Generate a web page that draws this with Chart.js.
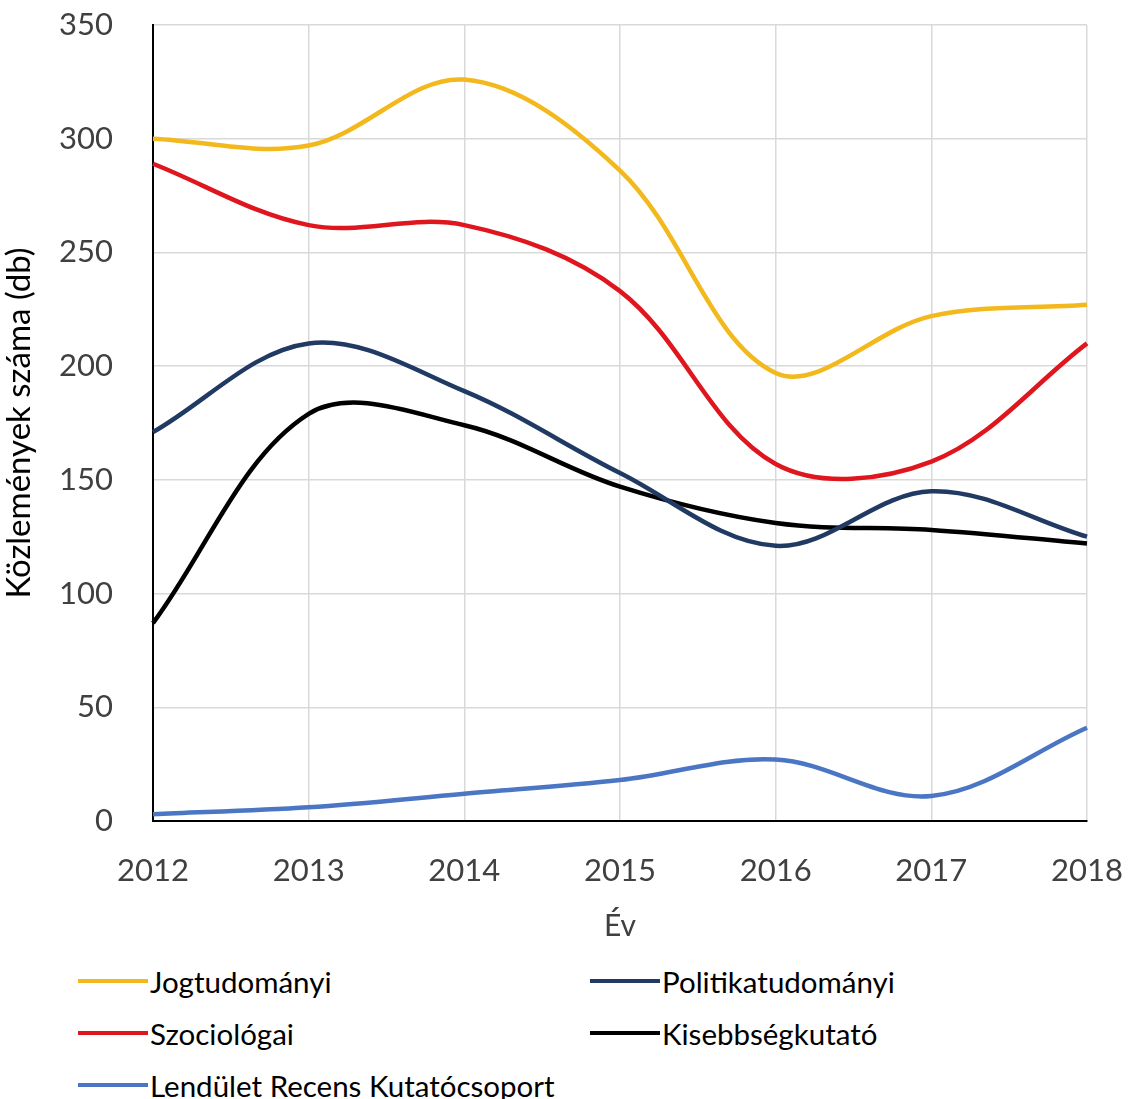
<!DOCTYPE html>
<html>
<head>
<meta charset="utf-8">
<script src="https://cdn.jsdelivr.net/npm/chart.js@4"></script>
<style>
  body { margin: 0; background: #fff; font-family: Lato, "Open Sans", sans-serif; }
  #wrap { position: relative; width: 1132px; height: 955px; }
  #legend {
    display: grid;
    grid-template-columns: 512px 1fr;
    padding-left: 78px;
    font-size: 29.5px;
    color: #000;
  }
  .item { display: flex; align-items: center; height: 52px; }
  .swatch { width: 70px; height: 4px; margin-right: 2px; }
</style>
</head>
<body>
<div id="wrap"><canvas id="chart"></canvas></div>
<div id="legend"></div>
<script>
// Évek (x tengely)
const years = ['2012', '2013', '2014', '2015', '2016', '2017', '2018'];

// Sorozatok – a képről leolvasott értékek
const jogtudomanyi      = [300, 297, 326, 286, 197, 222, 227];
const politikatudomanyi = [171, 210, 189, 153, 121, 145, 125];
const szociologiai      = [289, 262, 262, 233, 157, 158, 210];
const kisebbsegkutato   = [87, 179, 174, 147, 131, 128, 122];
const lendulet          = [3, 6, 12, 18, 27, 11, 41];

const seriesNames  = ['Jogtudományi', 'Politikatudományi', 'Szociológai', 'Kisebbségkutató', 'Lendület Recens Kutatócsoport'];
const seriesData   = [jogtudomanyi, politikatudomanyi, szociologiai, kisebbsegkutato, lendulet];
const seriesColors = ['#f2b81c', '#213a63', '#e0161e', '#000000', '#4a76c4'];

const FONT = 'Lato, "Open Sans", sans-serif';

const datasets = seriesNames.map((name, i) => ({
    label: name,
    data: seriesData[i],
    borderColor: seriesColors[i],
    backgroundColor: seriesColors[i],
    borderWidth: 4.5,
    tension: 0.35,
    pointRadius: 0,
    fill: false,
    order: i,
}));

const chart = new Chart(document.getElementById('chart'), {
    type: 'line',
    data: { labels: years, datasets },
    options: {
        responsive: true,
        maintainAspectRatio: false,
        animation: false,
        layout: { padding: { top: 25, right: 45, left: 0, bottom: 0 } },
        plugins: { legend: { display: false }, tooltip: { enabled: false } },
        scales: {
            x: {
                offset: false,
                grid: { color: '#d9d9d9', lineWidth: 1.5, drawTicks: false },
                border: { color: '#000', width: 2 },
                ticks: { color: '#404040', font: { family: FONT, size: 31 }, padding: 31, maxRotation: 0 },
                title: { display: true, text: 'Év', color: '#404040', font: { family: FONT, size: 30 }, padding: { top: 4, bottom: 11 } },
                afterFit: s => { s.height = 134; s.paddingLeft = 0; s.paddingRight = 0; }
            },
            y: {
                min: 0,
                max: 350,
                ticks: { stepSize: 50, color: '#404040', font: { family: FONT, size: 31 }, padding: 40 },
                grid: { color: '#d9d9d9', lineWidth: 1.5, drawTicks: false },
                border: { color: '#000', width: 2 },
                title: { display: true, text: 'Közlemények száma (db)', color: '#000', font: { family: FONT, size: 33 }, padding: { top: 0, bottom: 0 } },
                afterFit: s => { s.width = 153; s.paddingTop = 0; s.paddingBottom = 0; }
            }
        }
    }
});

// HTML legend in two columns, built from the chart's datasets
const legend = document.getElementById('legend');
chart.data.datasets.forEach(ds => {
    const item = document.createElement('div');
    item.className = 'item';
    const sw = document.createElement('span');
    sw.className = 'swatch';
    sw.style.background = ds.borderColor;
    item.appendChild(sw);
    item.appendChild(document.createTextNode(ds.label));
    legend.appendChild(item);
});
</script>
</body>
</html>
